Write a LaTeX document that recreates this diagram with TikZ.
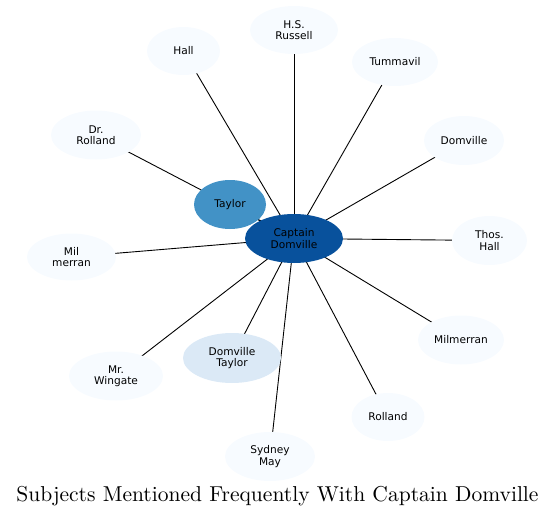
\documentclass[tikz,border=0pt]{standalone}
\usepackage{fontspec}
\newfontfamily\labelfont{DejaVu Sans}
\usetikzlibrary{shapes.geometric}
\definecolor{cdark}{HTML}{08519C}
\definecolor{cmid}{HTML}{4292C6}
\definecolor{clight}{HTML}{DBE9F6}
\definecolor{cpale}{HTML}{F7FBFF}
\pgfdeclarelayer{edges}
\pgfsetlayers{edges,main}
\tikzset{
  ent/.style={ellipse, draw=none, fill=cpale, inner sep=0pt, align=center,
    font=\labelfont\fontsize{10.6}{11.3}\selectfont, text=black},
  link/.style={draw=black, line width=0.9pt}
}
\begin{document}
\begin{tikzpicture}[x=1pt,y=-1pt]
\useasboundingbox (0,0) rectangle (555,517);
\node[ent, fill=cdark, minimum width=98pt, minimum height=49pt] (cap) at (294,238.5) {Captain\\Domville};
\node[ent, fill=cmid, minimum width=72pt, minimum height=49pt] (tay) at (230,204.5) {Taylor};
\node[ent, minimum width=88pt, minimum height=48pt] (hsr) at (294,30) {H.S.\\Russell};
\node[ent, minimum width=73pt, minimum height=48pt] (hall) at (183.5,51) {Hall};
\node[ent, minimum width=86pt, minimum height=48pt] (tum) at (395,62) {Tummavil};
\node[ent, minimum width=90pt, minimum height=49pt] (drr) at (96,135) {Dr.\\Rolland};
\node[ent, minimum width=80pt, minimum height=49pt] (dom) at (464,140.5) {Domville};
\node[ent, minimum width=75pt, minimum height=49pt] (thos) at (489.5,240.5) {Thos.\\Hall};
\node[ent, minimum width=89pt, minimum height=47pt] (milm) at (71.5,257) {Mil\\merran};
\node[ent, minimum width=86pt, minimum height=49pt] (milmer) at (461,340) {Milmerran};
\node[ent, minimum width=94pt, minimum height=49pt] (win) at (116,376) {Mr.\\Wingate};
\node[ent, fill=clight, minimum width=98pt, minimum height=50pt] (domt) at (232,358) {Domville\\Taylor};
\node[ent, minimum width=73pt, minimum height=48pt] (rol) at (388,417) {Rolland};
\node[ent, minimum width=90pt, minimum height=49pt] (syd) at (270,456.5) {Sydney\\May};
\begin{pgfonlayer}{edges}
\foreach \n in {tay,hsr,hall,tum,drr,dom,thos,milm,milmer,win,domt,rol,syd}
  \draw[link] (cap.center) -- (\n.center);
\end{pgfonlayer}
\node[anchor=base, inner sep=0pt] (title) at (277.5,501.5) {\resizebox{522pt}{!}{Subjects Mentioned Frequently With Captain Domville}};
\end{tikzpicture}
\end{document}
